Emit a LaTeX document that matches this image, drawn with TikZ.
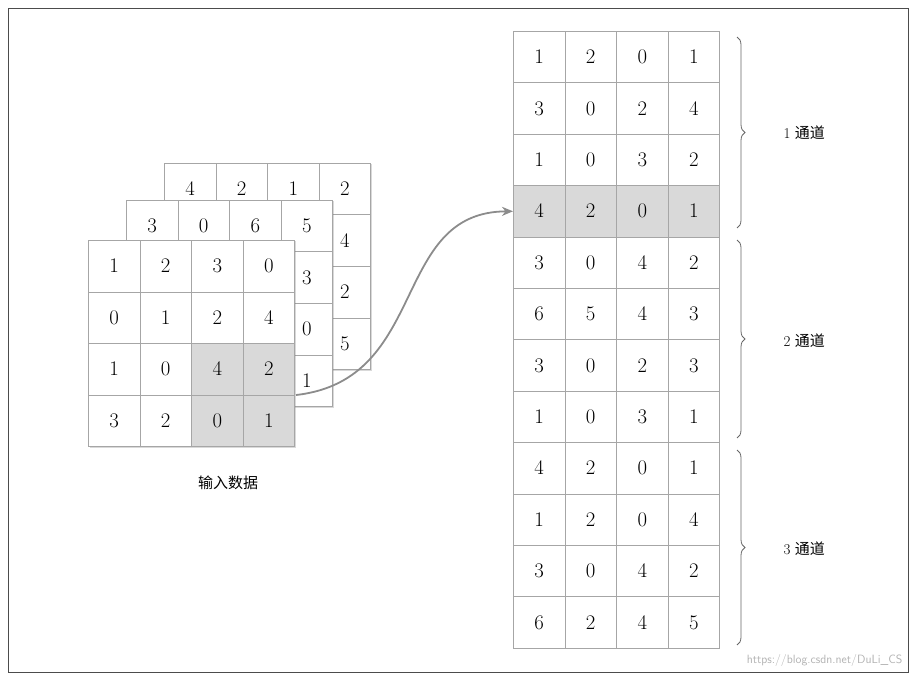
\documentclass[tikz,border=0pt]{standalone}
\usepackage{fontspec}
\newfontfamily\cjk{Noto Sans CJK SC}
\usetikzlibrary{decorations.pathreplacing,arrows.meta,shadows}
\begin{document}
\begin{tikzpicture}[x=1pt,y=-1pt,
  cellbox/.style={draw=black!35,line width=0.7pt,minimum width=51.6pt,minimum height=51.5pt,inner sep=0pt,font=\fontsize{21}{24}\selectfont},
  mat/.style={fill=white,drop shadow={shadow xshift=1.5pt,shadow yshift=-1.5pt,opacity=0.3}},
  lab/.style={font=\fontsize{15}{18}\selectfont},
  brc/.style={draw=black!60,line width=0.8pt,decorate,decoration={brace,amplitude=8pt}}]
\useasboundingbox (0,0) rectangle (916,679);
\draw[black!70,line width=0.8pt] (8,8) rectangle (908,672);
% back matrix
\fill[mat] (164,163) rectangle (370,369);
\foreach \r/\c/\v in {0/0/4,0/1/2,0/2/1,0/3/2,1/3/4,2/3/2,3/3/5,1/0/,1/1/,1/2/,2/0/,2/1/,2/2/,3/0/,3/1/,3/2/}
  \node[cellbox,anchor=north west] (b\r\c) at (164+51.6*\c,163+51.5*\r) {$\v$};
% middle matrix
\fill[mat] (126,200) rectangle (332,406);
\fill[white] (126,200) rectangle (332,406);
\foreach \r/\c/\v in {0/0/3,0/1/0,0/2/6,0/3/5,1/3/3,2/3/0,3/3/1,1/0/,1/1/,1/2/,2/0/,2/1/,2/2/,3/0/,3/1/,3/2/}
  \node[cellbox,anchor=north west] (m\r\c) at (126+51.6*\c,200+51.5*\r) {$\v$};
% front matrix
\fill[mat] (88,240) rectangle (294,446);
\fill[white] (88,240) rectangle (294,446);
\foreach \r/\c/\v/\f in {0/0/1/white,0/1/2/white,0/2/3/white,0/3/0/white,
  1/0/0/white,1/1/1/white,1/2/2/white,1/3/4/white,
  2/0/1/white,2/1/0/white,2/2/4/black!15,2/3/2/black!15,
  3/0/3/white,3/1/2/white,3/2/0/black!15,3/3/1/black!15}
  \node[cellbox,fill=\f,anchor=north west] (f\r\c) at (88+51.6*\c,240+51.5*\r) {$\v$};
\node[lab] (inp) at (228,483) {\cjk 输入数据};
% right column
\foreach \r/\a/\b/\c/\d in {0/1/2/0/1,1/3/0/2/4,2/1/0/3/2,3/4/2/0/1,4/3/0/4/2,5/6/5/4/3,6/3/0/2/3,7/1/0/3/1,8/4/2/0/1,9/1/2/0/4,10/3/0/4/2,11/6/2/4/5}{
  \ifnum\r=3 \def\ff{black!15}\else\def\ff{white}\fi
  \node[cellbox,fill=\ff,anchor=north west] (r\r a) at (513,31+51.4*\r) {$\a$};
  \node[cellbox,fill=\ff,anchor=north west] (r\r b) at (564.6,31+51.4*\r) {$\b$};
  \node[cellbox,fill=\ff,anchor=north west] (r\r c) at (616.2,31+51.4*\r) {$\c$};
  \node[cellbox,fill=\ff,anchor=north west] (r\r d) at (667.8,31+51.4*\r) {$\d$};
}
\coordinate (br1t) at (737,37); \coordinate (br1b) at (737,228);
\coordinate (br2t) at (737,240); \coordinate (br2b) at (737,438);
\coordinate (br3t) at (737,450); \coordinate (br3b) at (737,645);
\draw[brc] (br1t) -- (br1b);
\draw[brc] (br2t) -- (br2b);
\draw[brc] (br3t) -- (br3b);
\node[lab,anchor=west] (c1) at (780,133) {1 \cjk 通道};
\node[lab,anchor=west] (c2) at (780,341) {2 \cjk 通道};
\node[lab,anchor=west] (c3) at (780,549) {3 \cjk 通道};
\coordinate (as) at (296,395);
\draw[black!45,line width=1.8pt,-{Stealth[length=11pt,width=9pt]}] (as) .. controls (430,380) and (390,212) .. (r3a.west);
\node[black!30,font=\fontsize{12}{14}\selectfont\sffamily,anchor=south east] (wm) at (906,670) {https://blog.csdn.net/DuLi\_CS};
\end{tikzpicture}
\end{document}
